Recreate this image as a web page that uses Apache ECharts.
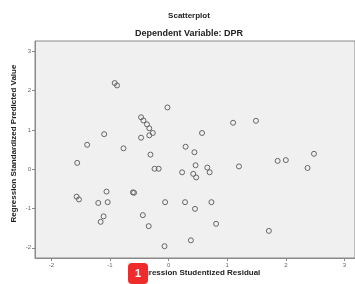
<!DOCTYPE html>
<html>
<head>
    <meta charset="utf-8">
    <title>Scatterplot</title>
    <script src="https://cdn.jsdelivr.net/npm/echarts@6/dist/echarts.min.js"></script>
    <style>
        html, body { margin: 0; padding: 0; background: #fff; }
    </style>
</head>
<body>
    <div id="main" style="width: 355px;height:284px;"></div>

    <script type="text/javascript">

        // studentized residual (x) and standardized predicted value (y)
        var residual = [
            -0.92, -0.88, -0.02, -0.47, -0.43, -0.37, -0.33, -0.27, -0.33, -0.47,
            -1.10, -0.77, -1.39, -0.31, -1.56, -0.24, -0.17, 1.10, 1.49, 0.57,
            0.29, 0.44, 2.48, 1.86, 2.00, 0.46, 0.66, 1.20, 2.37, 0.23,
            0.42, 0.47, 0.70, -1.57, -1.53, -1.06, -0.61, -0.59, -1.20, -1.04,
            -0.06, -1.11, -1.16, -0.44, -0.34, -0.07, 0.28, 0.73, 0.45, 0.81,
            1.71, 0.38
        ];
        var predicted = [
            2.19, 2.13, 1.57, 1.32, 1.24, 1.14, 1.04, 0.92, 0.86, 0.80,
            0.89, 0.53, 0.62, 0.37, 0.16, 0.01, 0.01, 1.18, 1.23, 0.92,
            0.57, 0.43, 0.39, 0.21, 0.23, 0.10, 0.04, 0.07, 0.03, -0.08,
            -0.12, -0.21, -0.08, -0.70, -0.77, -0.57, -0.59, -0.60, -0.86, -0.84,
            -0.84, -1.20, -1.34, -1.17, -1.45, -1.96, -0.84, -0.84, -1.01, -1.39,
            -1.57, -1.81
        ];
        var xTicks = [-2, -1, 0, 1, 2, 3];
        var yTicks = [-2, -1, 0, 1, 2, 3];

        var points = [];
        for (var i = 0; i < residual.length; i++) {
            points.push([residual[i], predicted[i]]);
        }

        var myChart = echarts.init(document.getElementById('main'));

        var font = 'Liberation Sans, Arial, sans-serif';
        var lineCol = '#8a8a8a';

        var option = {
            animation: false,
            title: [{
                text: 'Scatterplot',
                left: 184,
                textAlign: 'center',
                top: 7,
                textStyle: { fontSize: 8, fontWeight: 'bold', color: '#222', fontFamily: font }
            }, {
                text: 'Dependent Variable: DPR',
                left: 184,
                textAlign: 'center',
                top: 24,
                textStyle: { fontSize: 9, fontWeight: 'bold', color: '#222', fontFamily: font }
            }],
            grid: {
                left: 35, top: 41, right: 0, bottom: 26,
                show: true,
                backgroundColor: '#f0f0f0',
                borderColor: lineCol,
                borderWidth: 1,
                outerBoundsMode: 'none'
            },
            xAxis: {
                type: 'value',
                min: -2.28,
                max: 3.18,
                axisLine: { show: true, onZero: false, lineStyle: { color: lineCol, width: 1 } },
                axisTick: { show: true, length: 3, customValues: xTicks, lineStyle: { color: lineCol } },
                axisLabel: { fontSize: 6, color: '#666', fontFamily: font, customValues: xTicks, margin: 4 },
                splitLine: { show: false }
            },
            yAxis: {
                type: 'value',
                min: -2.26,
                max: 3.26,
                axisLine: { show: true, onZero: false, lineStyle: { color: lineCol, width: 1 } },
                axisTick: { show: true, length: 3, customValues: yTicks, lineStyle: { color: lineCol } },
                axisLabel: { fontSize: 6, color: '#666', fontFamily: font, customValues: yTicks, margin: 4 },
                splitLine: { show: false }
            },
            series: [{
                type: 'scatter',
                symbol: 'circle',
                symbolSize: 5,
                itemStyle: { color: 'rgba(0,0,0,0)', borderColor: '#666', borderWidth: 1, opacity: 1 },
                data: points
            }],
            graphic: [{
                type: 'text',
                x: 14,
                y: 143.5,
                rotation: Math.PI / 2,
                style: {
                    text: 'Regression Standardized Predicted Value',
                    fill: '#222', fontSize: 8, fontWeight: 'bold', fontFamily: font,
                    align: 'center', verticalAlign: 'middle'
                }
            }, {
                type: 'text',
                x: 197,
                y: 273,
                style: {
                    text: 'Regression Studentized Residual',
                    fill: '#222', fontSize: 8, fontWeight: 'bold', fontFamily: font,
                    align: 'center', verticalAlign: 'middle'
                }
            }, {
                type: 'rect',
                left: 128,
                top: 263,
                shape: { width: 20, height: 21, r: 4 },
                style: { fill: '#f02b2b' }
            }, {
                type: 'text',
                left: 135,
                top: 268,
                style: { text: '1', fill: '#fff', fontSize: 11, fontWeight: 'bold', fontFamily: font }
            }]
        };

        myChart.setOption(option);

    </script>

</body>
</html>
